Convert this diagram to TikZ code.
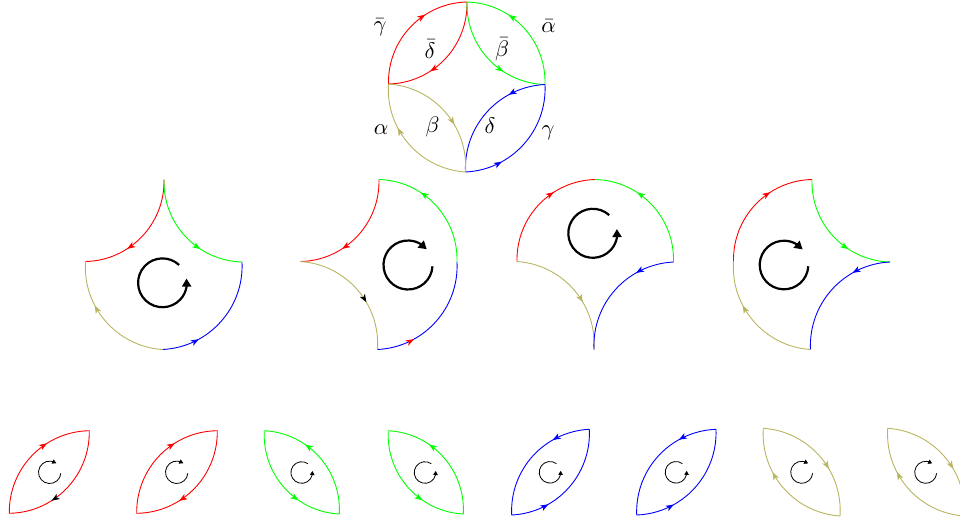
\documentclass[tikz,border=0pt]{standalone}
\usetikzlibrary{arrows.meta,decorations.markings,bending}
\definecolor{olv}{RGB}{185,180,95}
\definecolor{grn}{RGB}{0,255,0}
\definecolor{blu}{RGB}{0,0,255}
\definecolor{rd}{RGB}{255,0,0}
\tikzset{
  edge/.style={line width=0.9pt},
  am/.style={postaction={decorate},decoration={markings,mark=at position #1 with {\arrow{Stealth[length=8pt,width=6pt,inset=2.2pt]}}}},
  am/.default=0.65,
  amk/.style={postaction={decorate},decoration={markings,mark=at position #1 with {\arrow{Stealth[length=8pt,width=6pt,inset=2.2pt,color=black]}}}},
  amk/.default=0.65,
  amr/.style={postaction={decorate},decoration={markings,mark=at position #1 with {\arrow{Stealth[length=8pt,width=6pt,inset=2.2pt,color=rd]}}}},
  amr/.default=0.3,
  rotbig/.style={line width=2.2pt,-{Triangle[length=8pt,width=9pt]}},
  rotsmall/.style={line width=0.8pt,-{Triangle[length=4pt,width=4.5pt]}},
  lbl/.style={inner sep=0pt,scale=2.25},
}
\begin{document}
\begin{tikzpicture}[x=1pt,y=1pt]
\useasboundingbox (0,0) rectangle (960,-525);
\clip (0,0) rectangle (960,-525);
% ---------- top figure ----------
\coordinate (T0) at (467,-2);
\coordinate (R0) at (545,-84.5);
\coordinate (B0) at (465.5,-172);
\coordinate (L0) at (388.5,-84);
\draw[edge,rd,am] (L0) to[bend left=45] (T0);
\draw[edge,rd,am] (T0) to[bend left=45] (L0);
\draw[edge,grn,am] (R0) to[bend right=45] (T0);
\draw[edge,grn,am] (T0) to[bend right=45] (R0);
\draw[edge,blu,am=0.29] (B0) to[bend right=45] (R0);
\draw[edge,blu,am=0.29] (R0) to[bend right=45] (B0);
\draw[edge,olv,am] (B0) to[bend left=45] (L0);
\draw[edge,olv,am=0.62] (L0) to[bend left=45] (B0);
\node[lbl] (lgb) at (380,-27) {$\bar\gamma$};
\node[lbl] (ldb) at (430,-49) {$\bar\delta$};
\node[lbl] (lbb) at (502,-49) {$\bar\beta$};
\node[lbl] (lab) at (548.5,-26) {$\bar\alpha$};
\node[lbl] (la) at (381,-130) {$\alpha$};
\node[lbl] (lb) at (432.5,-127) {$\beta$};
\node[lbl] (ld) at (490,-126) {$\delta$};
\node[lbl] (lg) at (548,-133) {$\gamma$};
% ---------- middle figure 1 ----------
\begin{scope}[shift={(-303,-177.5)}]
\coordinate (T1) at (467,-2);
\coordinate (R1) at (545,-84.5);
\coordinate (B1) at (465.5,-172);
\coordinate (L1) at (388.5,-84);
\end{scope}
\draw[edge,rd,am] (T1) to[bend left=45] (L1);
\draw[edge,grn,am] (T1) to[bend right=45] (R1);
\draw[edge,blu,am=0.29] (B1) to[bend right=45] (R1);
\draw[edge,olv,am] (B1) to[bend left=45] (L1);
\coordinate (c1) at (162.5,-282.8);
\draw[rotbig] (c1) ++(47:24.4) arc[start angle=47,end angle=370,radius=24.4];
% ---------- middle figure 2 ----------
\begin{scope}[shift={(-88,-177.5)}]
\coordinate (T2) at (467,-2);
\coordinate (R2) at (545,-84.5);
\coordinate (B2) at (465.5,-172);
\coordinate (L2) at (388.5,-84);
\end{scope}
\draw[edge,rd,am] (T2) to[bend left=45] (L2);
\draw[edge,olv,amk=0.62] (L2) to[bend left=45] (B2);
\draw[edge,blu,amr=0.29] (B2) to[bend right=45] (R2);
\draw[edge,grn,am] (R2) to[bend right=45] (T2);
\coordinate (c2) at (408,-265);
\draw[rotbig] (c2) ++(-3:24.5) arc[start angle=-3,end angle=-320,radius=24.5];
% ---------- middle figure 3 ----------
\begin{scope}[shift={(128.5,-177.5)}]
\coordinate (T3) at (467,-2);
\coordinate (R3) at (545,-84.5);
\coordinate (B3) at (465.5,-172);
\coordinate (L3) at (388.5,-84);
\end{scope}
\draw[edge,rd,am] (L3) to[bend left=45] (T3);
\draw[edge,grn,am] (R3) to[bend right=45] (T3);
\draw[edge,olv,am=0.62] (L3) to[bend left=45] (B3);
\draw[edge,blu,am=0.3] (R3) to[bend right=45] (B3);
\coordinate (c3) at (592.8,-233.3);
\draw[rotbig] (c3) ++(48:24.5) arc[start angle=48,end angle=370,radius=24.5];
% ---------- middle figure 4 ----------
\begin{scope}[shift={(345,-177.5)}]
\coordinate (T4) at (467,-2);
\coordinate (R4) at (545,-84.5);
\coordinate (B4) at (465.5,-172);
\coordinate (L4) at (388.5,-84);
\end{scope}
\draw[edge,rd,am] (L4) to[bend left=45] (T4);
\draw[edge,grn,am] (T4) to[bend right=45] (R4);
\draw[edge,blu,am=0.3] (R4) to[bend right=45] (B4);
\draw[edge,olv,am] (B4) to[bend left=45] (L4);
\coordinate (c4) at (784,-265);
\draw[rotbig] (c4) ++(-3:24.3) arc[start angle=-3,end angle=-320,radius=24.3];
% ---------- bottom lenses ----------
% red
\coordinate (a1) at (9.3,-513.3);   \coordinate (b1) at (89.3,-430.7);
\draw[edge,rd,am] (a1) to[bend left=45] (b1);
\draw[edge,rd,amk] (b1) to[bend left=45] (a1);
\coordinate (s1) at (49.7,-472.3);
\draw[rotsmall] (s1) ++(-5:11.2) arc[start angle=-5,end angle=-306,radius=11.2];
\coordinate (a2) at (136.7,-513.3); \coordinate (b2) at (217.3,-430.7);
\draw[edge,rd,am] (a2) to[bend left=45] (b2);
\draw[edge,rd,am] (b2) to[bend left=45] (a2);
\coordinate (s2) at (176.7,-472.3);
\draw[rotsmall] (s2) ++(-5:11.2) arc[start angle=-5,end angle=-306,radius=11.2];
% green
\coordinate (a3) at (339.3,-514);   \coordinate (b3) at (264.3,-430.7);
\draw[edge,grn,am] (a3) to[bend right=45] (b3);
\draw[edge,grn,am] (b3) to[bend right=45] (a3);
\coordinate (s3) at (301.7,-472.5);
\draw[rotsmall] (s3) ++(54:10.8) arc[start angle=54,end angle=368,radius=10.8];
\coordinate (a4) at (463.3,-514);   \coordinate (b4) at (388.3,-430.7);
\draw[edge,grn,am] (a4) to[bend right=45] (b4);
\draw[edge,grn,am] (b4) to[bend right=45] (a4);
\coordinate (s4) at (425,-472.5);
\draw[rotsmall] (s4) ++(54:10.8) arc[start angle=54,end angle=368,radius=10.8];
% blue
\coordinate (a5) at (511.7,-515);   \coordinate (b5) at (589.3,-429.3);
\draw[edge,blu,am=0.3] (b5) to[bend right=45] (a5);
\draw[edge,blu,am=0.3] (a5) to[bend right=45] (b5);
\coordinate (s5) at (550,-472.3);
\draw[rotsmall] (s5) ++(54:10.8) arc[start angle=54,end angle=368,radius=10.8];
\coordinate (a6) at (636.7,-515);   \coordinate (b6) at (716,-429.3);
\draw[edge,blu,am=0.3] (b6) to[bend right=45] (a6);
\draw[edge,blu,am=0.3] (a6) to[bend right=45] (b6);
\coordinate (s6) at (676,-472.3);
\draw[rotsmall] (s6) ++(54:10.8) arc[start angle=54,end angle=368,radius=10.8];
% olive
\coordinate (a7) at (763.3,-428.3); \coordinate (b7) at (840,-516);
\draw[edge,olv,am=0.62] (a7) to[bend left=45] (b7);
\draw[edge,olv,am] (b7) to[bend left=45] (a7);
\coordinate (s7) at (801.7,-472.3);
\draw[rotsmall] (s7) ++(-5:11) arc[start angle=-5,end angle=-306,radius=11];
\coordinate (a8) at (887.7,-428.3); \coordinate (b8) at (964.3,-516);
\draw[edge,olv,am=0.62] (a8) to[bend left=45] (b8);
\draw[edge,olv,am] (b8) to[bend left=45] (a8);
\coordinate (s8) at (925.7,-472.3);
\draw[rotsmall] (s8) ++(-5:11) arc[start angle=-5,end angle=-306,radius=11];
\end{tikzpicture}
\end{document}
